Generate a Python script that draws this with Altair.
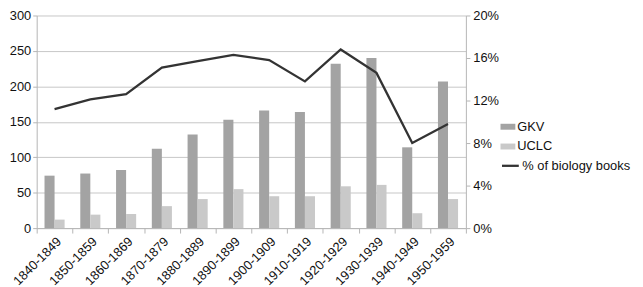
import altair as alt
import pandas as pd

periods = ["1840-1849", "1850-1859", "1860-1869", "1870-1879", "1880-1889", "1890-1899",
           "1900-1909", "1910-1919", "1920-1929", "1930-1939", "1940-1949", "1950-1959"]
gkv = [74, 77, 82, 112, 132, 153, 166, 164, 232, 240, 114, 207]
uclc = [12, 19, 20, 31, 41, 55, 45, 45, 59, 61, 21, 41]
pct_bio = [11.2, 12.1, 12.6, 15.1, 15.7, 16.3, 15.8, 13.8, 16.8, 14.6, 8.0, 9.8]

series_names = ["GKV", "UCLC"]
line_name = "% of biology books"

bars_df = pd.DataFrame({
    "period": periods * 2,
    "series": ["GKV"] * len(periods) + ["UCLC"] * len(periods),
    "count": gkv + uclc,
})
line_df = pd.DataFrame({
    "period": periods,
    "pct": [p / 100 for p in pct_bio],
    "label": [line_name] * len(periods),
})

FONT = "Liberation Sans"
GRID = "#c6c6c6"
AXC = "#b5b5b5"

x_enc = alt.X(
    "period:N", sort=periods, title=None,
    scale=alt.Scale(paddingInner=0, paddingOuter=0),
    axis=alt.Axis(labelAngle=-45, tickBand="extent", domainColor=AXC, tickColor=AXC,
                  tickSize=5, labelFontSize=13, labelColor="#111", labelFont=FONT,
                  labelPadding=2),
)

bars = alt.Chart(bars_df).mark_bar().encode(
    x=x_enc,
    xOffset=alt.XOffset("series:N", sort=series_names,
                        scale=alt.Scale(paddingOuter=0.78, paddingInner=0)),
    y=alt.Y("count:Q", title=None,
            scale=alt.Scale(domain=[0, 300], nice=False),
            axis=alt.Axis(values=[0, 50, 100, 150, 200, 250, 300], grid=True, gridColor=GRID,
                          domainColor=AXC, tickColor=AXC, tickSize=4, labelFontSize=13,
                          labelColor="#111", labelFont=FONT, labelPadding=2)),
    color=alt.Color("series:N", sort=series_names,
                    scale=alt.Scale(domain=series_names, range=["#a3a3a3", "#c9c9c9"]),
                    legend=alt.Legend(title=None, orient="none", legendX=469, legendY=105,
                                      symbolType="M-1,-0.4H1V0.4H-1Z", symbolSize=225,
                                      symbolStrokeWidth=0,
                                      labelFontSize=13, labelFont=FONT, labelColor="#111",
                                      labelOffset=2, rowPadding=5, symbolOffset=0)),
)

line = alt.Chart(line_df).mark_line(strokeWidth=2.3).encode(
    x=x_enc,
    y=alt.Y("pct:Q", title=None,
            scale=alt.Scale(domain=[0, 0.2], nice=False),
            axis=alt.Axis(orient="right", format=".0%", values=[0, 0.04, 0.08, 0.12, 0.16, 0.2],
                          grid=False, domainColor=AXC, tickColor=AXC, tickSize=4,
                          labelFontSize=13, labelColor="#111", labelFont=FONT, labelPadding=3)),
    stroke=alt.Stroke("label:N",
                      scale=alt.Scale(domain=[line_name], range=["#333333"]),
                      legend=alt.Legend(title=None, orient="none", legendX=469, legendY=142,
                                        symbolType="stroke", symbolSize=289, symbolStrokeWidth=2.3,
                                        labelFontSize=13, labelFont=FONT, labelColor="#111",
                                        labelOffset=2, symbolOffset=0, labelLimit=200)),
)

chart = alt.layer(bars, line).resolve_scale(y="independent").properties(
    width=434, height=215,
    autosize=alt.AutoSizeParams(type="none"),
    padding={"left": 29, "top": 6, "right": 171, "bottom": 60},
).configure_view(stroke=None).configure_axis(labelFont=FONT)

chart.save("out.html", embed_options={"renderer": "svg", "actions": False})
